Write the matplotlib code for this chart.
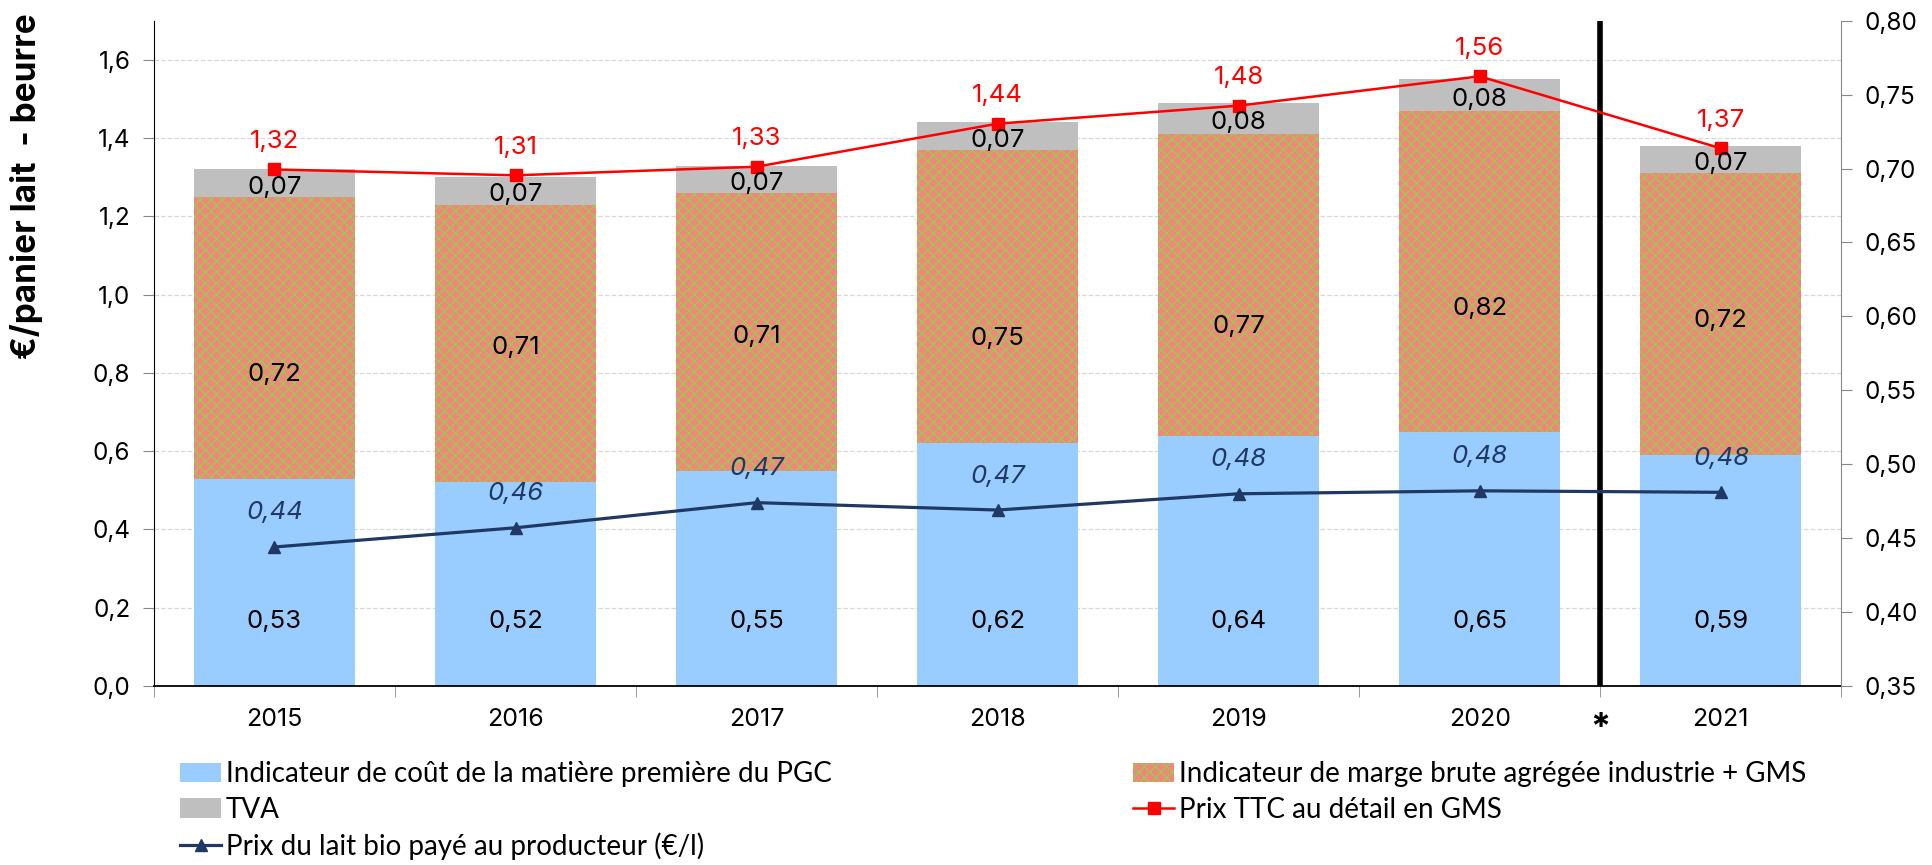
import matplotlib.pyplot as plt
import matplotlib.transforms as mtransforms
from matplotlib.ticker import FuncFormatter
import numpy as np

plt.rcParams['font.family'] = ['Inter', 'DejaVu Sans']
plt.rcParams['hatch.linewidth'] = 0.9

# donnees
annees = ['2015', '2016', '2017', '2018', '2019', '2020', '2021']
cout_mp = [0.53, 0.52, 0.55, 0.62, 0.64, 0.65, 0.59]
marge = [0.72, 0.71, 0.71, 0.75, 0.77, 0.82, 0.72]
tva = [0.07, 0.07, 0.07, 0.07, 0.08, 0.08, 0.07]
prix_ttc = [1.32, 1.305, 1.327, 1.437, 1.483, 1.558, 1.374]
prix_ttc_lbl = ['1,32', '1,31', '1,33', '1,44', '1,48', '1,56', '1,37']
prix_lait = [0.444, 0.457, 0.474, 0.469, 0.480, 0.482, 0.481]
prix_lait_lbl = ['0,44', '0,46', '0,47', '0,47', '0,48', '0,48', '0,48']

# decalage vertical des etiquettes de marge (pixels), comme sur l'original
decal_marge = [-37, -4, -5, -42, -42, -37, -6]

c_bleu = '#99ccff'
c_saumon = '#f4857a'
c_vert = '#92d050'
c_gris = '#bfbfbf'
c_marine = '#1f3864'


def virgule(v, nd):
    return f'{v:.{nd}f}'.replace('.', ',')


x = np.arange(len(annees))
w = 0.667

fig = plt.figure(figsize=(19.32, 8.65), dpi=100)
ax = fig.add_axes([0.0797, 0.207, 0.8733, 0.769])
ax2 = ax.twinx()

cout = np.array(cout_mp)
mg = np.array(marge)
tv = np.array(tva)

b1 = ax.bar(x, cout, w, color=c_bleu, linewidth=0, zorder=2,
            label='Indicateur de coût de la matière première du PGC')
b2 = ax.bar(x, mg, w, bottom=cout, facecolor=c_saumon, edgecolor=c_vert,
            hatch='xxx', linewidth=0, zorder=2,
            label='Indicateur de marge brute agrégée industrie + GMS')
b3 = ax.bar(x, tv, w, bottom=cout + mg, color=c_gris, linewidth=0, zorder=2,
            label='TVA')
l1, = ax.plot(x, prix_ttc, color='red', lw=1.8, marker='s', ms=9, zorder=4,
              label='Prix TTC au détail en GMS')
l2, = ax2.plot(x, prix_lait, color=c_marine, lw=2.3, marker='^', ms=9,
               zorder=4, label='Prix du lait bio payé au producteur (€/l)')

fs = 18.5
for i in range(len(x)):
    ax.text(x[i], 0.165, virgule(cout[i], 2), ha='center', va='center',
            fontsize=fs, zorder=5)
    ax.annotate(virgule(mg[i], 2), (x[i], cout[i] + mg[i] / 2),
                xytext=(0, decal_marge[i]), textcoords='offset pixels',
                ha='center', va='center', fontsize=fs, zorder=5)
    ax.text(x[i], cout[i] + mg[i] + tv[i] / 2 - 0.01, virgule(tv[i], 2),
            ha='center', va='center', fontsize=fs, zorder=5)
    ax.annotate(prix_ttc_lbl[i], (x[i], prix_ttc[i]), xytext=(0, 28),
                textcoords='offset pixels', ha='center', va='center',
                color='red', fontsize=fs, zorder=6)
    ax2.annotate(prix_lait_lbl[i], (x[i], prix_lait[i]), xytext=(0, 34),
                 textcoords='offset pixels', ha='center', va='center',
                 color=c_marine, fontsize=fs, style='italic', zorder=6)

# separation 2020 / 2021
ax.axvline(5.5, color='black', lw=4, zorder=3)
trans = mtransforms.blended_transform_factory(ax.transData, ax.transAxes)
ax.text(5.5, -0.064, '*', transform=trans, ha='center', va='center',
        fontsize=26, fontweight='bold')

ax.set_xlim(-0.5, 6.5)
ax.set_ylim(0, 1.7)
ax2.set_ylim(0.35, 0.80)
ax.set_yticks(np.arange(0, 1.61, 0.2))
ax2.set_yticks(np.arange(0.35, 0.801, 0.05))
ax.yaxis.set_major_formatter(FuncFormatter(lambda v, p: virgule(v, 1)))
ax2.yaxis.set_major_formatter(FuncFormatter(lambda v, p: virgule(v, 2)))

ax.set_xticks(x)
ax.set_xticklabels(annees)
ax.set_xticks(np.arange(-0.5, 6.6, 1), minor=True)
ax.tick_params(axis='x', which='major', length=0, pad=16, labelsize=18)
ax.tick_params(axis='x', which='minor', length=8, color='#888888')
ax.tick_params(axis='y', length=8, color='#888888', pad=9, labelsize=17.5)
ax2.tick_params(axis='y', length=8, color='#888888', pad=9, labelsize=17.5)

ax.grid(axis='y', color='#d9d9d9', ls='--', lw=0.9, zorder=0)
ax.set_axisbelow(True)
ax.spines['top'].set_visible(False)
ax2.spines['top'].set_visible(False)
ax2.spines['left'].set_visible(False)
ax2.spines['bottom'].set_visible(False)
ax.spines['right'].set_visible(False)
ax2.spines['right'].set_color('#888888')
ax.spines['left'].set_color('black')
ax.spines['bottom'].set_color('black')
ax.spines['bottom'].set_linewidth(1.3)

fig.text(0.0135, 1 - 186 / 865, '€/panier lait  - beurre', rotation=90,
         ha='center', va='center', fontsize=24, fontweight='bold')

fig.legend([b1, b3, l2, b2, l1],
           [b1.get_label(), b3.get_label(), l2.get_label(), b2.get_label(),
            l1.get_label()],
           ncol=2, loc='upper left', bbox_to_anchor=(0.086, 0.136),
           frameon=False, borderpad=0, handletextpad=0.17,
           handlelength=1.48, labelspacing=0.34, columnspacing=10.85,
           numpoints=1, prop={'family': ['Lato', 'DejaVu Sans'], 'size': 20})

fig.savefig('out.png', dpi=100)
